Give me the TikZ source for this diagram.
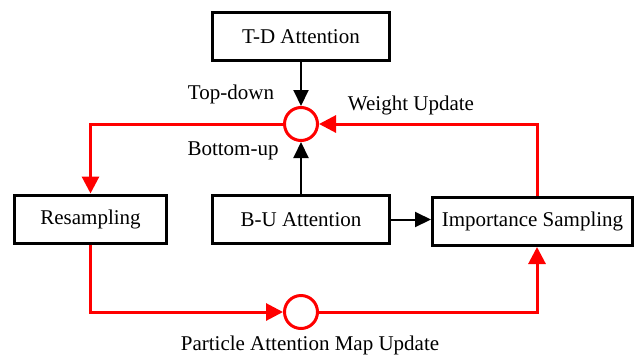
\documentclass[tikz,border=0pt]{standalone}
\usepackage{fontspec}
\setmainfont{Liberation Serif}
\usetikzlibrary{arrows.meta}

\tikzset{
    block/.style={draw, line width=1.5pt, minimum height=24pt, inner sep=0pt, font=\fontsize{10.5}{12}\selectfont},
    junction/.style={draw=red, circle, line width=1.5pt, minimum size=16.5pt, inner sep=0pt},
    lbl/.style={font=\fontsize{10.5}{12}\selectfont, inner sep=0pt},
    blackarrow/.style={line width=1pt, -{Triangle[length=8pt,width=7.5pt]}},
    redarrow/.style={red, line width=1.5pt, -{Triangle[length=8.5pt,width=8.5pt]}}
}

\begin{document}
\begin{tikzpicture}[x=0.5pt, y=-0.5pt]

    \useasboundingbox (0,0) rectangle (635,359);

    % blocks
    \node[block, minimum width=88.5pt] (td)  at (301, 36.5)  {T-D Attention};
    \node[block, minimum width=88.5pt] (bu)  at (301, 219.5) {B-U Attention};
    \node[block, minimum width=76pt]   (res) at (90.5, 219)  {Resampling};
    \node[block, minimum width=100pt]  (imp) at (532.5, 221.5) {Importance Sampling};

    % junctions
    \node[junction] (top) at (301, 124) {};
    \node[junction] (bot) at (301, 312) {};

    \coordinate (upr) at (537, 124);
    \coordinate (lowr) at (537, 312);

    % black arrows
    \draw[blackarrow] (td) -- (top);
    \draw[blackarrow] (bu) -- (top);
    \draw[blackarrow] (bu) -- (imp.west |- bu);

    % red loop
    \draw[redarrow] (top.west) -| (res.north);
    \draw[redarrow] (imp.north -| upr) -- (upr) -- (top.east);
    \draw[redarrow] (res.south) |- (bot.west);
    \draw[redarrow] (bot.east) -- (lowr) -- (imp.south -| lowr);

    % labels
    \node[lbl] (ltd) at (231, 94)  {Top-down};
    \node[lbl] (lbu) at (233, 151) {Bottom-up};
    \node[lbl] (lwu) at (411, 105) {Weight Update};
    \node[lbl] (lpa) at (310, 345) {Particle Attention Map Update};

\end{tikzpicture}
\end{document}
